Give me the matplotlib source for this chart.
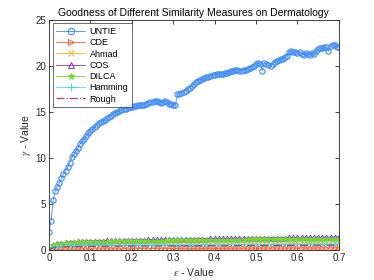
import numpy as np
import matplotlib
matplotlib.use("Agg")
import matplotlib.pyplot as plt

plt.rcParams['font.family'] = ['Liberation Sans', 'DejaVu Sans']
plt.rcParams['mathtext.fontset'] = 'stix'

# x grid for UNTIE (step 0.005) and others (step 0.01)
x_untie = np.round(np.arange(0, 141) * 0.005, 3)
x_other = np.round(np.arange(0, 71) * 0.01, 2)

untie = [
    2.0, 3.2, 5.4, 6.4, 6.9, 7.3, 7.8, 8.3, 8.6, 9.0,
    9.5, 10.1, 10.4, 10.8, 11.1, 11.5, 11.8, 12.1, 12.4, 12.7,
    12.9, 13.2, 13.4, 13.6, 13.8, 13.9, 14.0, 14.1, 14.3, 14.5,
    14.6, 14.8, 14.9, 15.0, 15.1, 15.2, 15.3, 15.3, 15.4, 15.5,
    15.5, 15.6, 15.6, 15.7, 15.7, 15.8, 15.8, 15.9, 16.0, 16.1,
    16.1, 16.2, 16.2, 16.1, 16.0, 16.1, 16.2, 16.1, 15.9, 15.9,
    15.8, 15.7, 16.9, 17.0, 17.1, 17.2, 17.3, 17.5, 17.6, 17.8,
    18.0, 18.2, 18.4, 18.5, 18.6, 18.7, 18.8, 18.8, 18.9, 19.0,
    19.0, 19.1, 19.1, 19.1, 19.1, 19.2, 19.2, 19.3, 19.4, 19.5,
    19.6, 19.6, 19.5, 19.5, 19.6, 19.6, 19.7, 19.8, 19.9, 20.0,
    20.2, 20.3, 20.2, 19.5, 20.3, 20.2, 20.1, 20.0, 20.2, 20.4,
    20.5, 20.6, 20.7, 20.8, 21.0, 21.1, 21.5, 21.6, 21.5, 21.5,
    21.4, 21.5, 21.3, 21.2, 21.4, 21.3, 21.2, 21.4, 21.3, 21.6,
    21.8, 21.9, 21.9, 22.0, 22.0, 21.6, 22.2, 22.3, 22.3, 22.1,
    22.1,
]

cos = [
    0.0, 0.6, 0.75, 0.8, 0.85, 0.9, 0.92, 0.95, 0.97, 0.98,
    1.0, 1.0, 1.02, 1.03, 1.05, 1.05, 1.07, 1.08, 1.1, 1.1,
    1.1, 1.12, 1.12, 1.13, 1.15, 1.15, 1.16, 1.17, 1.18, 1.18,
    1.2, 1.2, 1.2, 1.22, 1.22, 1.23, 1.24, 1.25, 1.25, 1.26,
    1.27, 1.27, 1.28, 1.28, 1.29, 1.3, 1.3, 1.3, 1.31, 1.32,
    1.33, 1.33, 1.34, 1.34, 1.35, 1.35, 1.36, 1.36, 1.37, 1.37,
    1.38, 1.38, 1.39, 1.39, 1.4, 1.4, 1.4, 1.41, 1.41, 1.42,
    1.42,
]

dilca = [
    0.0, 0.5, 0.65, 0.7, 0.75, 0.78, 0.8, 0.82, 0.84, 0.85,
    0.87, 0.88, 0.9, 0.9, 0.92, 0.93, 0.94, 0.95, 0.96, 0.97,
    0.98, 0.98, 0.99, 1.0, 1.0, 1.01, 1.02, 1.02, 1.03, 1.04,
    1.05, 1.05, 1.06, 1.06, 1.07, 1.08, 1.08, 1.09, 1.1, 1.1,
    1.1, 1.11, 1.12, 1.12, 1.13, 1.13, 1.14, 1.14, 1.15, 1.15,
    1.16, 1.16, 1.17, 1.17, 1.18, 1.18, 1.18, 1.19, 1.19, 1.2,
    1.2, 1.2, 1.21, 1.21, 1.22, 1.22, 1.22, 1.23, 1.23, 1.24,
    1.24,
]

ahmad = [
    0.0, 0.4, 0.52, 0.58, 0.62, 0.65, 0.67, 0.69, 0.7, 0.71,
    0.72, 0.73, 0.74, 0.75, 0.76, 0.77, 0.78, 0.78, 0.79, 0.8,
    0.8, 0.81, 0.82, 0.82, 0.83, 0.84, 0.84, 0.85, 0.85, 0.86,
    0.86, 0.87, 0.87, 0.88, 0.88, 0.89, 0.89, 0.9, 0.9, 0.9,
    0.91, 0.91, 0.92, 0.92, 0.92, 0.93, 0.93, 0.94, 0.94, 0.94,
    0.95, 0.95, 0.95, 0.96, 0.96, 0.96, 0.97, 0.97, 0.97, 0.98,
    0.98, 0.98, 0.99, 0.99, 0.99, 1.0, 1.0, 1.0, 1.01, 1.01,
    1.01,
]

hamming = [
    0.0, 0.3, 0.38, 0.42, 0.45, 0.47, 0.48, 0.49, 0.5, 0.5,
    0.51, 0.51, 0.52, 0.52, 0.53, 0.53, 0.54, 0.54, 0.55, 0.55,
    0.55, 0.56, 0.56, 0.56, 0.57, 0.57, 0.57, 0.58, 0.58, 0.58,
    0.59, 0.59, 0.59, 0.6, 0.6, 0.6, 0.6, 0.61, 0.61, 0.61,
    0.61, 0.62, 0.62, 0.62, 0.62, 0.63, 0.63, 0.63, 0.63, 0.64,
    0.64, 0.64, 0.64, 0.65, 0.65, 0.65, 0.65, 0.66, 0.66, 0.66,
    0.66, 0.67, 0.67, 0.67, 0.67, 0.68, 0.68, 0.68, 0.68, 0.69,
    0.69,
]

rough = [
    0.0, 0.25, 0.3, 0.33, 0.35, 0.36, 0.37, 0.38, 0.38, 0.39,
    0.39, 0.4, 0.4, 0.4, 0.41, 0.41, 0.41, 0.42, 0.42, 0.42,
    0.42, 0.43, 0.43, 0.43, 0.43, 0.44, 0.44, 0.44, 0.44, 0.45,
    0.45, 0.45, 0.45, 0.45, 0.46, 0.46, 0.46, 0.46, 0.46, 0.47,
    0.47, 0.47, 0.47, 0.47, 0.48, 0.48, 0.48, 0.48, 0.48, 0.49,
    0.49, 0.49, 0.49, 0.49, 0.5, 0.5, 0.5, 0.5, 0.5, 0.51,
    0.51, 0.51, 0.51, 0.51, 0.52, 0.52, 0.52, 0.52, 0.52, 0.53,
    0.53,
]

cde = [
    0.0, 0.05, 0.07, 0.08, 0.09, 0.1, 0.1, 0.11, 0.11, 0.12,
    0.12, 0.12, 0.13, 0.13, 0.13, 0.13, 0.14, 0.14, 0.14, 0.14,
    0.15, 0.15, 0.15, 0.15, 0.15, 0.16, 0.16, 0.16, 0.16, 0.16,
    0.17, 0.17, 0.17, 0.17, 0.17, 0.17, 0.18, 0.18, 0.18, 0.18,
    0.18, 0.18, 0.19, 0.19, 0.19, 0.19, 0.19, 0.19, 0.2, 0.2,
    0.2, 0.2, 0.2, 0.2, 0.21, 0.21, 0.21, 0.21, 0.21, 0.21,
    0.22, 0.22, 0.22, 0.22, 0.22, 0.22, 0.23, 0.23, 0.23, 0.23,
    0.23,
]

fig = plt.figure(figsize=(3.74, 2.80), dpi=100)
ax = fig.add_axes([0.131, 0.107, 0.775, 0.822])

lw = 0.6
ms = 3.8
ax.plot(x_untie, untie, '-o', color='#3d8af7', mfc='none', mew=0.8, ms=ms, lw=lw, label='UNTIE')
ax.plot(x_other, cde, '->', color='#ff5b2a', mfc='none', mew=0.7, ms=3.5, lw=lw, label='CDE')
ax.plot(x_other, ahmad, '-x', color='#f2b425', mew=0.7, ms=3.5, lw=lw, label='Ahmad')
ax.plot(x_other, cos, '-^', color='#7d2cf0', mfc='none', mew=0.7, ms=3.5, lw=lw, label='COS')
ax.plot(x_other, dilca, '-*', color='#77d92a', mew=0.7, ms=3.8, lw=lw, label='DILCA')
ax.plot(x_other, hamming, '-+', color='#43dcf5', mew=0.7, ms=4.5, lw=lw, label='Hamming')
ax.plot(x_other, rough, '-.', color='#b5415c', lw=0.9, label='Rough')

ax.set_xlim(0, 0.7)
ax.set_ylim(0, 25)
ax.set_xticks([0, 0.1, 0.2, 0.3, 0.4, 0.5, 0.6, 0.7])
ax.set_xticklabels(['0', '0.1', '0.2', '0.3', '0.4', '0.5', '0.6', '0.7'])
ax.set_yticks([0, 5, 10, 15, 20, 25])
ax.tick_params(direction='in', top=True, right=True, labelsize=7, length=3,
               width=0.6, colors='#262626', pad=2)
for s in ax.spines.values():
    s.set_linewidth(0.6)
    s.set_color('#262626')

ax.set_title('Goodness of Different Similarity Measures on Dermatology', fontsize=7.5, pad=3, color='#000000')
ax.set_xlabel(r'$\epsilon$ - Value', fontsize=7.5, labelpad=2, color='#262626')
ax.set_ylabel(r'$\gamma$ - Value', fontsize=7.5, labelpad=2, color='#262626')

leg = ax.legend(loc='upper left', fontsize=6.5, frameon=True, fancybox=False,
                edgecolor='#262626', handlelength=3.2, borderpad=0.4, labelspacing=0.25,
                handletextpad=0.5, borderaxespad=0.4, markerscale=1.2)
leg.get_frame().set_linewidth(0.6)

fig.savefig('out.png', dpi=100)
